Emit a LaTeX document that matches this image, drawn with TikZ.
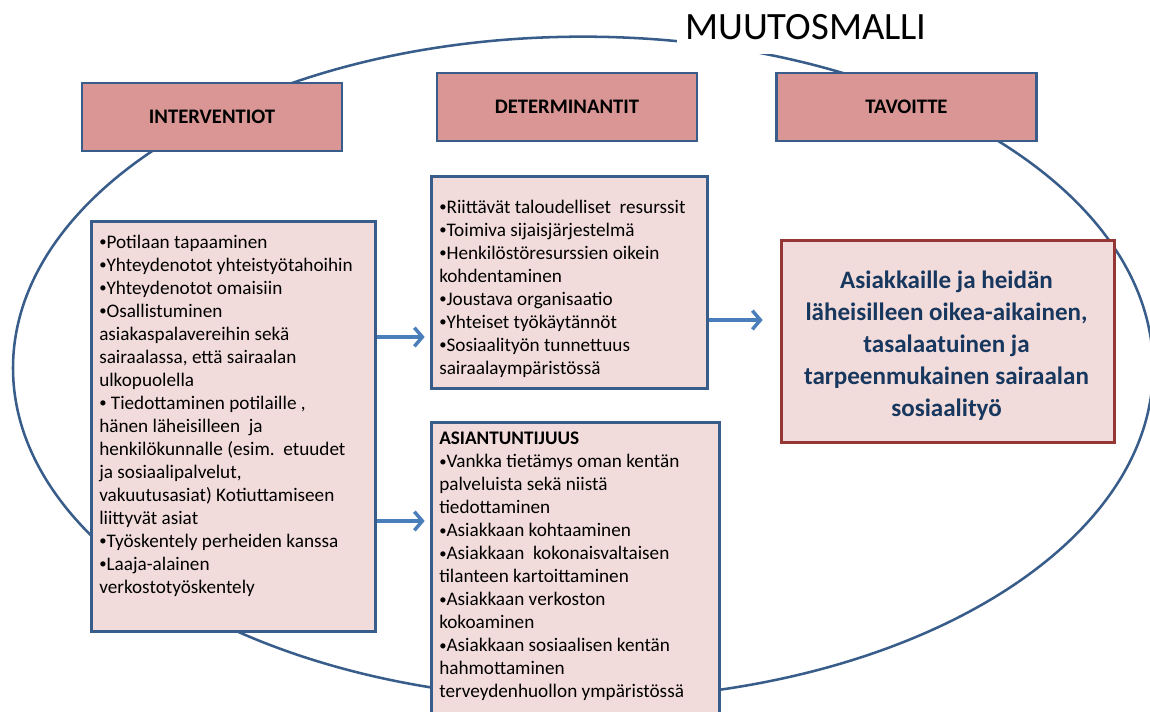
\documentclass[tikz,border=0pt]{standalone}
\usepackage{fontspec}
\setmainfont{Carlito}
\usetikzlibrary{arrows.meta}

\definecolor{hdrfill}{HTML}{D99694}
\definecolor{boxfill}{HTML}{F2DCDB}
\definecolor{edgeblue}{HTML}{385D8A}
\definecolor{arrowblue}{HTML}{4A7EBB}
\definecolor{goalred}{HTML}{953735}
\definecolor{goalink}{HTML}{17375E}

% small list bullet
\newcommand{\bul}{{\fontsize{11}{11}\selectfont\raisebox{0.25ex}{•}}}

\begin{document}
\begin{tikzpicture}[x=0.75pt,y=-0.75pt,
  hdr/.style={draw=edgeblue, line width=1.9pt, fill=hdrfill, inner sep=0pt,
    minimum width=195pt, minimum height=51pt,
    font=\fontsize{15.5}{18}\selectfont\bfseries},
  panel/.style={draw=edgeblue, line width=2.2pt, fill=boxfill, inner sep=0pt,
    anchor=north west},
  bodytext/.style={anchor=north west, inner sep=0pt, align=left,
    font=\fontsize{14.4}{17.25}\selectfont},
  goal/.style={draw=goalred, line width=2.2pt, fill=boxfill, inner sep=0pt,
    anchor=north west, minimum width=249.75pt, minimum height=151.5pt},
  goaltxt/.style={inner sep=0pt, align=center, text=goalink,
    font=\fontsize{18.8}{24}\selectfont\bfseries},
  arr/.style={draw=arrowblue, line width=2.6pt,
    -{Straight Barb[length=6pt,width=14pt]}}
]
\useasboundingbox (0,0) rectangle (1150,711);
\clip (0,0) rectangle (1150,711);

% outer ellipse of the model
\draw[edgeblue, line width=1.9pt] (583,368) ellipse [x radius=427.5pt, y radius=248.5pt];

% title over the ellipse
\node[fill=white, inner sep=0pt, anchor=north west,
      minimum width=193.5pt, minimum height=40.5pt] (titlebg) at (677,0) {};
\node[inner sep=0pt, font=\fontsize{29}{35}\selectfont] (title) at (806,27) {MUUTOSMALLI};

% column headers
\node[hdr] (hint) at (212,117) {INTERVENTIOT};
\node[hdr] (hdet) at (567,107) {DETERMINANTIT};
\node[hdr] (htav) at (906.5,107) {TAVOITTE};

% interventions
\node[panel, minimum width=213pt, minimum height=307.5pt] (lbox) at (90,220) {};
\node[bodytext] (ltext) at (99,235) {%
\bul Potilaan tapaaminen\\
\bul Yhteydenotot yhteistyötahoihin\\
\bul Yhteydenotot omaisiin\\
\bul Osallistuminen\\
asiakaspalavereihin sekä\\
sairaalassa, että sairaalan\\
ulkopuolella\\
\bul\ Tiedottaminen potilaille ,\\
hänen läheisilleen\ \ ja\\
henkilökunnalle (esim.\ \ etuudet\\
ja sosiaalipalvelut,\\
vakuutusasiat) Kotiuttamiseen\\
liittyvät asiat\\
\bul Työskentely perheiden kanssa\\
\bul Laaja-alainen\\
verkostotyöskentely};

% determinants
\node[panel, minimum width=207pt, minimum height=159pt] (dbox) at (430,175) {};
\node[bodytext] (dtext) at (439,200) {%
\bul Riittävät taloudelliset\ \ resurssit\\
\bul Toimiva sijaisjärjestelmä\\
\bul Henkilöstöresurssien oikein\\
kohdentaminen\\
\bul Joustava organisaatio\\
\bul Yhteiset työkäytännöt\\
\bul Sosiaalityön tunnettuus\\
sairaalaympäristössä};

% expertise
\node[panel, minimum width=216pt, minimum height=232pt] (abox) at (430,421) {};
\node[bodytext] (atext) at (439,432) {%
\textbf{ASIANTUNTIJUUS}\\
\bul Vankka tietämys oman kentän\\
palveluista sekä niistä\\
tiedottaminen\\
\bul Asiakkaan kohtaaminen\\
\bul Asiakkaan\ \ kokonaisvaltaisen\\
tilanteen kartoittaminen\\
\bul Asiakkaan verkoston\\
kokoaminen\\
\bul Asiakkaan sosiaalisen kentän\\
hahmottaminen\\
terveydenhuollon ympäristössä};

% goal
\node[goal] (gbox) at (780,239) {};
\node[goaltxt] (gtext) at (946.5,346) {%
Asiakkaille ja heidän\\
läheisilleen oikea-aikainen,\\
tasalaatuinen ja\\
tarpeenmukainen sairaalan\\
sosiaalityö};

% connectors
\draw[arr, shorten >=4pt] (lbox.east |- 0,337) -- (dbox.west |- 0,337);
\draw[arr, shorten >=4pt] (lbox.east |- 0,521) -- (abox.west |- 0,521);
\draw[arr, shorten >=13pt] (dbox.east |- 0,320) -- (gbox.west |- 0,320);
\end{tikzpicture}
\end{document}
